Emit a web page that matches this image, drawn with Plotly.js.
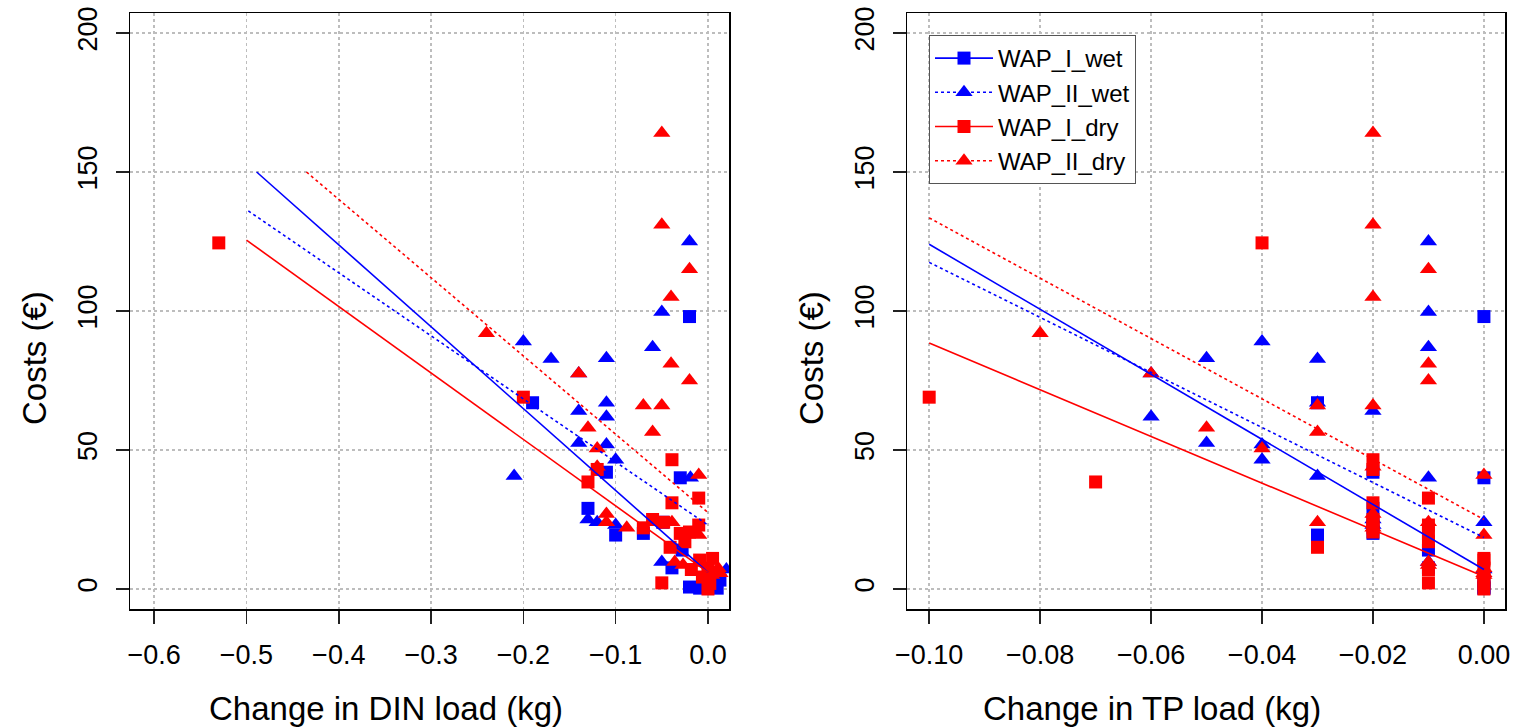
<!DOCTYPE html>
<html>
<head>
<meta charset="utf-8">
<script src="https://cdn.plot.ly/plotly-3.0.1.min.js"></script>
<style>html,body{margin:0;padding:0;background:#fff;}#chart{width:1514px;height:728px;}</style>
</head>
<body>
<div id="chart"></div>
<script>
// ---------------- data ----------------
const seriesNames = ["WAP_I_wet", "WAP_II_wet", "WAP_I_dry", "WAP_II_dry"];

// WAP_I_wet (blue squares)
const costIwet = [98, 67, 42, 40, 29, 19.4, 20, 24, 14, 7.6, 0.7, 0.3, 0.3, 3.2];
const dinIwet  = [-0.02, -0.19, -0.11, -0.03, -0.13, -0.10, -0.07, -0.049, -0.028, -0.039, -0.02, -0.009, 0.01, 0.013];
const tpIwet   = [0, -0.03, -0.02, 0, -0.02, -0.03, -0.02, -0.02, -0.01, -0.01, 0, 0, 0, 0];

// WAP_II_wet (blue triangles)
const costIIwet = [89, 82.7, 83, 77.5, 64, 67, 62, 52.5, 52, 46.5, 40.6, 40, 25, 24, 23, 125, 99.6, 87, 9.7, 7];
const dinIIwet  = [-0.20, -0.17, -0.11, -0.14, -0.14, -0.11, -0.11, -0.14, -0.11, -0.10, -0.21, -0.019, -0.13, -0.12, -0.10, -0.02, -0.05, -0.06, -0.05, 0.02];
const tpIIwet   = [-0.04, -0.03, -0.05, -0.06, -0.02, -0.03, -0.06, -0.05, -0.04, -0.04, -0.03, -0.01, -0.02, 0, -0.02, -0.01, -0.01, -0.01, -0.01, 0];

// WAP_I_dry (red squares)
const costIdry = [124.5, 69, 38.5, 46.5, 43, 31, 32.7, 22, 25, 20, 23, 15, 2.2, 7, 10.4, 7.5, 4.3, 2, 0, 20.5, 11, 17, 24];
const dinIdry  = [-0.53, -0.20, -0.13, -0.039, -0.12, -0.039, -0.01, -0.07, -0.06, -0.03, -0.01, -0.041, -0.05, -0.018, -0.009, 0.0, -0.006, 0.002, 0.0, -0.02, 0.005, -0.025, -0.048];
const tpIdry   = [-0.04, -0.10, -0.07, -0.02, -0.02, -0.02, -0.01, -0.02, -0.02, -0.01, -0.01, -0.03, -0.01, -0.01, 0, 0, 0, 0, 0, -0.02, 0, -0.01, -0.02];

// WAP_II_dry (red triangles)
const costIIdry = [92, 77.5, 58, 50.5, 66, 56.5, 164, 131, 105, 66, 115, 81, 75, 41, 19.4, 44, 24, 27, 22, 24, 9.7, 8.6, 7.5, 5, 5.7];
const dinIIdry  = [-0.24, -0.14, -0.13, -0.12, -0.07, -0.06, -0.05, -0.05, -0.04, -0.05, -0.02, -0.04, -0.02, -0.01, -0.01, -0.12, -0.11, -0.11, -0.088, -0.039, -0.036, -0.027, 0.011, 0.004, 0.013];
const tpIIdry   = [-0.08, -0.06, -0.05, -0.04, -0.03, -0.03, -0.02, -0.02, -0.02, -0.02, -0.01, -0.01, -0.01, 0, 0, -0.02, -0.03, -0.02, -0.02, -0.01, -0.01, -0.01, 0, 0, 0];

// fitted lines: DIN panel
const fitDinX_Iwet = [-0.489, 0],  fitDinY_Iwet = [150, 6];
const fitDinX_IIwet = [-0.498, 0], fitDinY_IIwet = [136, 23];
const fitDinX_Idry = [-0.5, 0],    fitDinY_Idry = [125.5, 6];
const fitDinX_IIdry = [-0.435, 0], fitDinY_IIdry = [150, 27.5];
// TP panel
const fitTpX = [-0.1, 0];
const fitTpY_Iwet = [124, 7];
const fitTpY_IIwet = [117.5, 18.5];
const fitTpY_Idry = [88.5, 4.5];
const fitTpY_IIdry = [133.5, 25];

// ticks
const dinTickVals = [-0.6, -0.5, -0.4, -0.3, -0.2, -0.1, 0.0];
const dinTickText = ["\u22120.6", "\u22120.5", "\u22120.4", "\u22120.3", "\u22120.2", "\u22120.1", "0.0"];
const tpTickVals = [-0.10, -0.08, -0.06, -0.04, -0.02, 0.00];
const tpTickText = ["\u22120.10", "\u22120.08", "\u22120.06", "\u22120.04", "\u22120.02", "0.00"];
const costTickVals = [0, 50, 100, 150, 200];
const costTickText = ["0", "50", "100", "150", "200"];

const xTitleDin = "Change in DIN load (kg)";
const xTitleTp = "Change in TP load (kg)";
const yTitle = "Costs (\u20ac)";

// ---------------- styling ----------------
const BLUE = "#0000ff", RED = "#ff0000";
const FONT = "Liberation Sans, Arial, Helvetica, sans-serif";
const style = [
  {color: BLUE, symbol: "square", size: 13, dash: "solid"},
  {color: BLUE, symbol: "triangle-up", size: 15, dash: "dot"},
  {color: RED, symbol: "square", size: 13, dash: "solid"},
  {color: RED, symbol: "triangle-up", size: 15, dash: "dot"}
];
const costs = [costIwet, costIIwet, costIdry, costIIdry];
const dins = [dinIwet, dinIIwet, dinIdry, dinIIdry];
const tps = [tpIwet, tpIIwet, tpIdry, tpIIdry];
const fitDinX = [fitDinX_Iwet, fitDinX_IIwet, fitDinX_Idry, fitDinX_IIdry];
const fitDinY = [fitDinY_Iwet, fitDinY_IIwet, fitDinY_Idry, fitDinY_IIdry];
const fitTpY = [fitTpY_Iwet, fitTpY_IIwet, fitTpY_Idry, fitTpY_IIdry];

const traces = [];
// points
for (let i = 0; i < 4; i++) {
  const s = style[i];
  traces.push({x: dins[i], y: costs[i], xaxis: "x", yaxis: "y", type: "scatter", mode: "markers",
    marker: {color: s.color, symbol: s.symbol, size: s.size, line: {width: 0}}, showlegend: false, hoverinfo: "x+y", name: seriesNames[i]});
  traces.push({x: tps[i], y: costs[i], xaxis: "x2", yaxis: "y2", type: "scatter", mode: "markers",
    marker: {color: s.color, symbol: s.symbol, size: s.size, line: {width: 0}}, showlegend: false, hoverinfo: "x+y", name: seriesNames[i]});
}
// fit lines
for (let i = 0; i < 4; i++) {
  const s = style[i];
  traces.push({x: fitDinX[i], y: fitDinY[i], xaxis: "x", yaxis: "y", type: "scatter", mode: "lines",
    line: {color: s.color, width: 1.6, dash: s.dash}, showlegend: false, hoverinfo: "skip", name: seriesNames[i]});
  traces.push({x: fitTpX, y: fitTpY[i], xaxis: "x2", yaxis: "y2", type: "scatter", mode: "lines",
    line: {color: s.color, width: 1.6, dash: s.dash}, showlegend: false, hoverinfo: "skip", name: seriesNames[i]});
}
// legend entries (line + marker sample)
for (let i = 0; i < 4; i++) {
  const s = style[i];
  traces.push({x: [null], y: [null], xaxis: "x2", yaxis: "y2", type: "scatter", mode: "lines+markers",
    line: {color: s.color, width: 1.6, dash: s.dash},
    marker: {color: s.color, symbol: s.symbol, size: s.size}, name: seriesNames[i], showlegend: true});
}

const W = 1514, H = 728;
const px = v => v / W, py = v => 1 - v / H;

const axisCommon = {
  showline: true, mirror: true, linecolor: "#000", linewidth: 1.5,
  ticks: "outside", ticklen: 13, tickwidth: 1.5, tickcolor: "#222",
  showgrid: true, gridcolor: "#bdbdbd", gridwidth: 1.5, griddash: "dot",
  zeroline: false, tickfont: {family: FONT, size: 27, color: "#000"}, fixedrange: true
};

const layout = {
  width: W, height: H,
  margin: {l: 0, r: 0, t: 0, b: 0},
  paper_bgcolor: "#fff", plot_bgcolor: "#fff",
  font: {family: FONT, color: "#000"},
  showlegend: true,
  xaxis: Object.assign({}, axisCommon, {domain: [px(130), px(729)], range: [-0.6262, 0.0228], anchor: "y",
    tickmode: "array", tickvals: dinTickVals, ticktext: dinTickText, ticklabelstandoff: 8}),
  yaxis: Object.assign({}, axisCommon, {domain: [py(609), py(13)], range: [-7.2, 207.2], anchor: "x",
    tickmode: "array", tickvals: costTickVals, ticktext: costTickText, tickangle: -90, ticklabelstandoff: 8}),
  xaxis2: Object.assign({}, axisCommon, {domain: [px(907), px(1505)], range: [-0.104, 0.0038], anchor: "y2",
    tickmode: "array", tickvals: tpTickVals, ticktext: tpTickText, ticklabelstandoff: 8}),
  yaxis2: Object.assign({}, axisCommon, {domain: [py(609), py(13)], range: [-7.2, 207.2], anchor: "x2",
    tickmode: "array", tickvals: costTickVals, ticktext: costTickText, tickangle: -90, ticklabelstandoff: 8}),
  legend: {x: px(929), y: py(35), xanchor: "left", yanchor: "top", bgcolor: "#fff",
    bordercolor: "#555", borderwidth: 1, font: {family: FONT, size: 24, color: "#000"},
    itemwidth: 58, tracegroupgap: 0},
  annotations: [
    {text: xTitleDin, xref: "paper", yref: "paper", x: px(386), y: py(708), xanchor: "center", yanchor: "middle",
      showarrow: false, font: {family: FONT, size: 33, color: "#000"}},
    {text: xTitleTp, xref: "paper", yref: "paper", x: px(1152), y: py(708), xanchor: "center", yanchor: "middle",
      showarrow: false, font: {family: FONT, size: 33, color: "#000"}},
    {text: yTitle, xref: "paper", yref: "paper", x: px(34), y: py(358), xanchor: "center", yanchor: "middle",
      textangle: -90, showarrow: false, font: {family: FONT, size: 33, color: "#000"}},
    {text: yTitle, xref: "paper", yref: "paper", x: px(811), y: py(358), xanchor: "center", yanchor: "middle",
      textangle: -90, showarrow: false, font: {family: FONT, size: 33, color: "#000"}}
  ]
};

Plotly.newPlot("chart", traces, layout, {displayModeBar: false, staticPlot: true});
</script>
</body>
</html>
